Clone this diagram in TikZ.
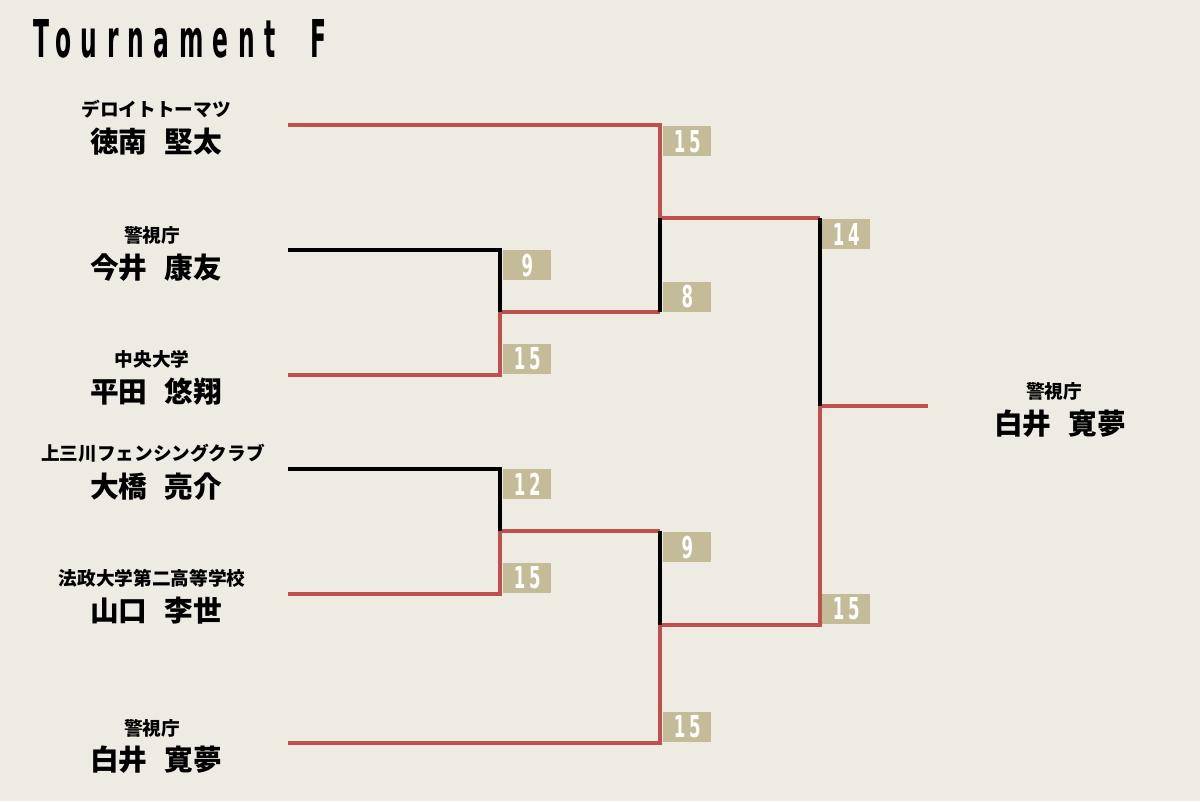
\documentclass[tikz,border=0pt]{standalone}
\usepackage{fontspec}
\usepackage{graphicx}
\newfontfamily\jpfont{Noto Sans CJK JP}
\newfontfamily\condfont{DejaVu Sans}[LetterSpace=22]
\newfontfamily\titlefont{DejaVu Sans}[LetterSpace=40]
\definecolor{bgc}{HTML}{EEEBE2}
\definecolor{redl}{HTML}{C0504D}
\definecolor{tan}{HTML}{C4BC98}
\newcommand{\scnum}[1]{\scalebox{0.55}[1]{#1}}
\tikzset{
  orgtext/.style={inner sep=0pt, font=\jpfont\bfseries\fontsize{14pt}{16pt}\selectfont},
  nametext/.style={inner sep=0pt, font=\jpfont\bfseries\fontsize{21.5pt}{24pt}\selectfont},
  score/.style={fill=tan, inner sep=0pt, minimum width=36pt, minimum height=22.5pt, text=white,
    font=\condfont\bfseries\fontsize{22.6pt}{22.6pt}\selectfont},
  redline/.style={draw=redl, line width=3pt},
  blackline/.style={draw=black, line width=3pt}
}
\begin{document}
\begin{tikzpicture}[x=0.75pt,y=-0.75pt]
\fill[bgc] (0,0) rectangle (1200,801);
\useasboundingbox (0,0) rectangle (1200,801);

% title
\node[anchor=south west, inner sep=0pt] (title) at (33,58)
  {\resizebox{220pt}{28.5pt}{\titlefont\bfseries Tournament\hspace{1.5em}F}};

% coordinates
\coordinate (a1) at (288,125);
\coordinate (a2) at (288,250);
\coordinate (a3) at (288,375);
\coordinate (a4) at (288,469);
\coordinate (a5) at (288,594);
\coordinate (a6) at (288,743);
\coordinate (m1) at (500,312);
\coordinate (m2) at (500,531);
\coordinate (s1) at (660,218);
\coordinate (s2) at (660,625);
\coordinate (f) at (820,406);
\coordinate (w) at (928,406);

% red lines
\draw[redline] (a1) -| (s1);
\draw[redline] (a3) -| (m1);
\draw[redline] (m1) -- (m1 -| s1);
\draw[redline] (a5) -| (m2);
\draw[redline] (m2) -- (m2 -| s2);
\draw[redline] (a6) -| (s2);
\draw[redline] (s1) -- (s1 -| f);
\draw[redline] (s2) -| (f);
\draw[redline] (f) -- (w);
% black lines
\draw[blackline] (a2) -| (m1);
\draw[blackline] (a4) -| (m2);
\draw[blackline] (m1 -| s1) -- (s1);
\draw[blackline] (m2 -| s2) -- (s2);
\draw[blackline] (s1 -| f) -- (f);

% scores
\node[score, anchor=north west] (sc1) at (503,250) {\scnum{9}};
\node[score, anchor=south west] (sc2) at (503,374) {\scnum{15}};
\node[score, anchor=north west] (sc3) at (503,469) {\scnum{12}};
\node[score, anchor=south west] (sc4) at (503,593) {\scnum{15}};
\node[score, anchor=north west] (sc5) at (663,126) {\scnum{15}};
\node[score, anchor=south west] (sc6) at (663,312) {\scnum{8}};
\node[score, anchor=north west] (sc7) at (663,532) {\scnum{9}};
\node[score, anchor=south west] (sc8) at (663,742) {\scnum{15}};
\node[score, anchor=north west] (sc9) at (822,219) {\scnum{14}};
\node[score, anchor=south west] (sc10) at (822,624) {\scnum{15}};

% players
\node[orgtext] (o1) at (156,109) {デロイトトーマツ};
\node[nametext] (n1) at (156,142) {徳南\hspace{0.6em}堅太};
\node[orgtext] (o2) at (152,235) {警視庁};
\node[nametext] (n2) at (156,268) {今井\hspace{0.6em}康友};
\node[orgtext] (o3) at (152,359) {中央大学};
\node[nametext] (n3) at (156,392) {平田\hspace{0.6em}悠翔};
\node[orgtext] (o4) at (153,453) {上三川フェンシングクラブ};
\node[nametext] (n4) at (156,487) {大橋\hspace{0.6em}亮介};
\node[orgtext] (o5) at (152,578) {法政大学第二高等学校};
\node[nametext] (n5) at (156,611) {山口\hspace{0.6em}李世};
\node[orgtext] (o6) at (152,728) {警視庁};
\node[nametext] (n6) at (156,760) {白井\hspace{0.6em}寛夢};

% winner
\node[orgtext] (ow) at (1054,391) {警視庁};
\node[nametext] (nw) at (1060,424) {白井\hspace{0.6em}寛夢};
\end{tikzpicture}
\end{document}
